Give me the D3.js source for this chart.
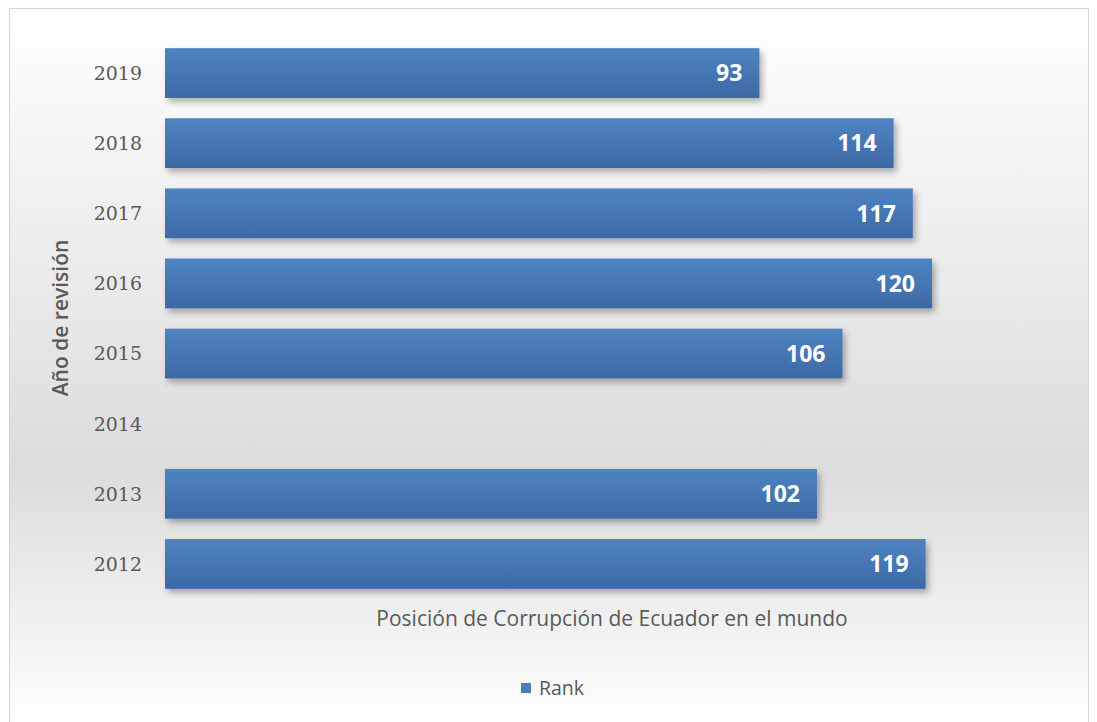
<!DOCTYPE html>
<html>
<head>
<meta charset="utf-8">
<script src="https://cdn.jsdelivr.net/npm/d3@7"></script>
<style>
    body { margin: 0; background: #fff; }
</style>
</head>
<body>
<svg id="chart"></svg>
<script>
const years = ['2019', '2018', '2017', '2016', '2015', '2014', '2013', '2012'];
const ranks = [93, 114, 117, 120, 106, null, 102, 119];
const seriesName = 'Rank';
const xTitle = 'Posición de Corrupción de Ecuador en el mundo';
const yTitle = 'Año de revisión';

const width = 1097, height = 722;
const svg = d3.select('#chart').attr('width', width).attr('height', height);

const defs = svg.append('defs');
const bg = defs.append('linearGradient').attr('id', 'bg').attr('x1', 0).attr('y1', 0).attr('x2', 0).attr('y2', 1);
bg.append('stop').attr('offset', '0%').attr('stop-color', '#ffffff');
bg.append('stop').attr('offset', '64%').attr('stop-color', '#dcdcdc');
bg.append('stop').attr('offset', '100%').attr('stop-color', '#ffffff');

const barGrad = defs.append('linearGradient').attr('id', 'barGrad').attr('x1', 0).attr('y1', 0).attr('x2', 0).attr('y2', 1);
barGrad.append('stop').attr('offset', '0%').attr('stop-color', '#4f83c2');
barGrad.append('stop').attr('offset', '100%').attr('stop-color', '#3c69a6');

const shadow = defs.append('filter').attr('id', 'shadow').attr('x', '-5%').attr('y', '-20%').attr('width', '115%').attr('height', '160%');
shadow.append('feDropShadow').attr('dx', 3).attr('dy', 4).attr('stdDeviation', 3)
    .attr('flood-color', '#000').attr('flood-opacity', 0.3);

// frame
svg.append('rect')
    .attr('x', 9.5).attr('y', 8.5)
    .attr('width', 1079).attr('height', 720)
    .attr('fill', 'url(#bg)')
    .attr('stroke', '#d4d4d4');

const x = d3.scaleLinear().domain([0, 120]).range([165, 932]);
const y = d3.scaleBand().domain(years).range([38, 599]).paddingInner(0.29).paddingOuter(0.145);

// y tick labels
svg.append('g')
    .selectAll('text')
    .data(years)
    .join('text')
    .attr('x', 142)
    .attr('y', d => y(d) + y.bandwidth() / 2)
    .attr('dy', '0.36em')
    .attr('text-anchor', 'end')
    .attr('font-family', 'DejaVu Serif, serif')
    .attr('font-size', 19)
    .attr('fill', '#595959')
    .text(d => d);

const rows = years.map((yr, i) => ({year: yr, value: ranks[i]})).filter(d => d.value != null);

svg.append('g')
    .selectAll('rect')
    .data(rows)
    .join('rect')
    .attr('x', x(0))
    .attr('y', d => y(d.year))
    .attr('width', d => x(d.value) - x(0))
    .attr('height', y.bandwidth())
    .attr('fill', 'url(#barGrad)')
    .attr('filter', 'url(#shadow)');

svg.append('g')
    .selectAll('text')
    .data(rows)
    .join('text')
    .attr('x', d => x(d.value) - 17)
    .attr('y', d => y(d.year) + y.bandwidth() / 2)
    .attr('dy', '0.36em')
    .attr('text-anchor', 'end')
    .attr('font-family', 'Open Sans, sans-serif')
    .attr('font-weight', 'bold')
    .attr('font-size', 23)
    .attr('fill', '#fff')
    .text(d => d.value);

// axis titles
svg.append('text')
    .attr('x', 612).attr('y', 626)
    .attr('text-anchor', 'middle')
    .attr('font-family', 'Open Sans, sans-serif')
    .attr('font-size', 21)
    .attr('fill', '#595959')
    .text(xTitle);

svg.append('text')
    .attr('transform', 'translate(68,318) rotate(-90)')
    .attr('text-anchor', 'middle')
    .attr('font-family', 'Open Sans, sans-serif')
    .attr('font-weight', 600)
    .attr('font-size', 21)
    .attr('fill', '#595959')
    .text(yTitle);

// legend
const legend = svg.append('g').attr('transform', 'translate(521,683)');
legend.append('rect').attr('width', 10).attr('height', 10).attr('fill', '#4a7ebb');
legend.append('text')
    .attr('x', 18).attr('y', 5).attr('dy', '0.36em')
    .attr('font-family', 'Open Sans, sans-serif')
    .attr('font-size', 19.5)
    .attr('fill', '#595959')
    .text(seriesName);
</script>
</body>
</html>
